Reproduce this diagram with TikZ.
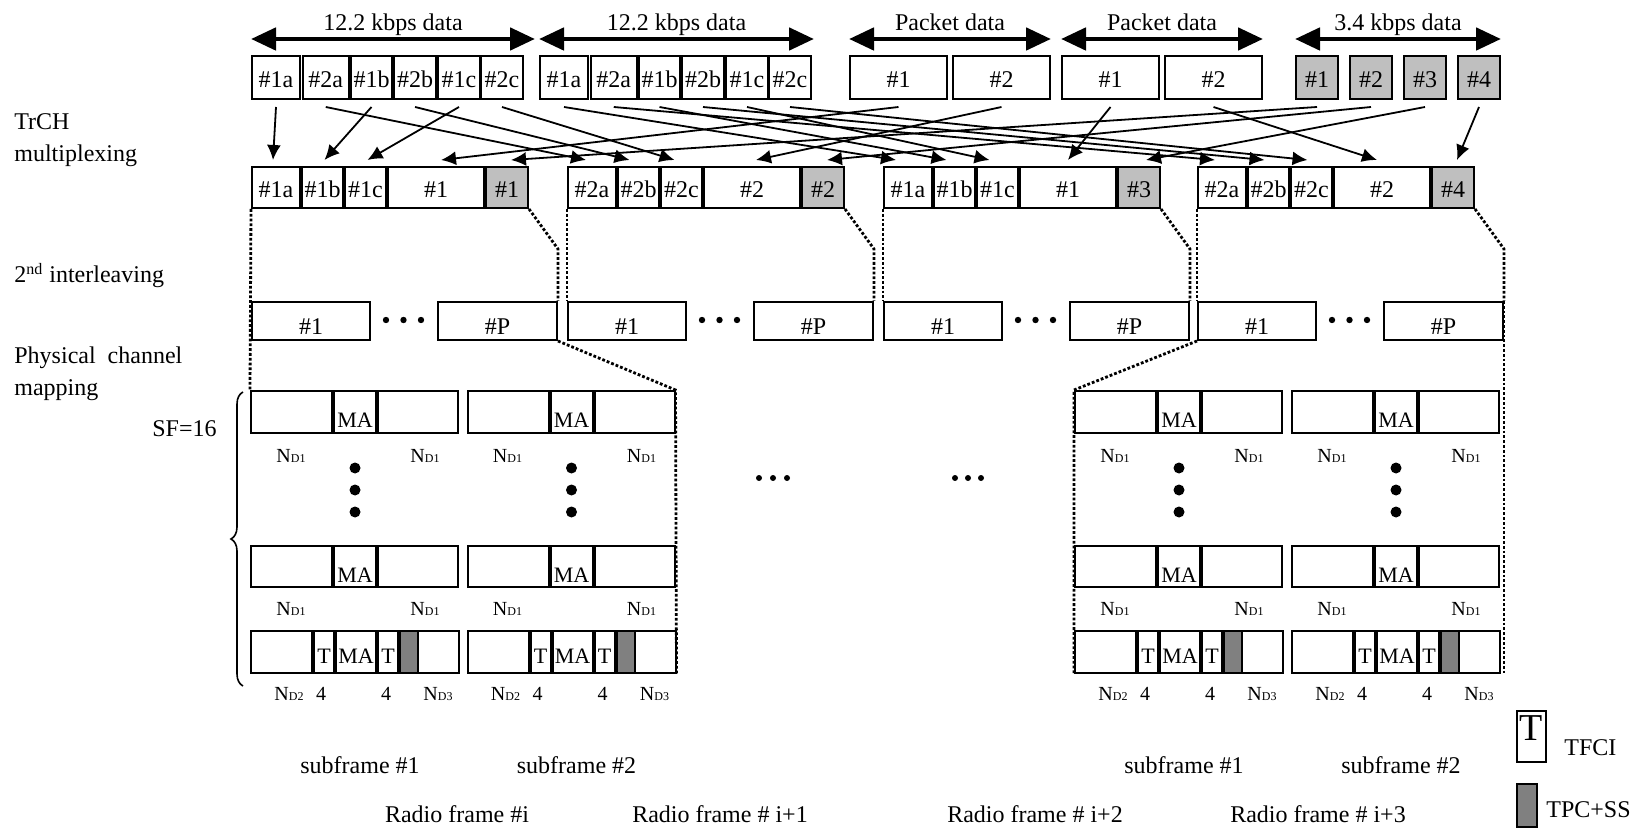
\documentclass[tikz,border=0pt]{standalone}
\usepackage{fontspec}
\setmainfont{Liberation Serif}
\usetikzlibrary{arrows.meta,decorations.pathreplacing}
\newcommand{\bx}[7][]{\node[blk,#1,minimum width={((#4)-(#3))*0.5pt},minimum height={((#6)-(#5))*0.5pt}] (#2) at ({((#3)+(#4))/2},{((#5)+(#6))/2}) {#7};}
\newcommand{\nd}[1]{N{\fontsize{6}{6}\selectfont #1}}
\begin{document}
\begin{tikzpicture}[x=0.5pt, y=-0.5pt, font=\fontsize{12}{14}\selectfont,
  blk/.style={draw, line width=1pt, inner sep=0pt, text height=10.5pt, text depth=0pt},
  lt/.style={fill=black!25},
  dk/.style={fill=black!50},
  lo/.style={text height=14pt},
  ma/.style={font=\fontsize{11}{13}\selectfont, text height=15.5pt},
  tt/.style={font=\fontsize{11}{13}\selectfont, text height=11.5pt},
  leg/.style={font=\fontsize{19}{21}\selectfont, text height=13pt, text depth=9pt},
  con/.style={-{Latex[length=7.5pt,width=7pt]}, line width=0.9pt},
  span/.style={{Triangle[length=12.5pt,width=11pt]}-{Triangle[length=12.5pt,width=11pt]}, line width=2.4pt},
  lab/.style={anchor=base, yshift=4pt},
  dots/.style={densely dotted, line width=1.4pt},
  sm/.style={font=\fontsize{10}{12}\selectfont, anchor=base},
  txt/.style={anchor=base west, inner xsep=0pt}]
\useasboundingbox (0,0) rectangle (1638,828);

% transport channels
\foreach \g/\off in {A/0, B/288}
  \foreach \n/\xa/\xb/\tg in {1/252/300/1a, 2/302.5/349/2a, 3/351/392/1b, 4/394/436/2b, 5/438/480/1c, 6/481/523/2c}
    \bx{\g\n}{\xa+\off}{\xb+\off}{56}{99}{\#\tg};
\foreach \g/\off in {C/0, D/212}
  \foreach \n/\xa/\xb in {1/850/947, 2/953/1050}
    \bx{\g\n}{\xa+\off}{\xb+\off}{56}{99}{\#\n};
\foreach \n in {1,...,4}
  \bx[lt]{E\n}{1242+54*\n}{1284+54*\n}{56}{99}{\#\n};

\draw[span] ([yshift=8pt]A1.north west) -- node[lab] (tA) {12.2 kbps data} ([xshift=5.5pt,yshift=8pt]A6.north east);
\draw[span] ([yshift=8pt]B1.north west) -- node[lab] (tB) {12.2 kbps data} ([xshift=1pt,yshift=8pt]B6.north east);
\draw[span] ([yshift=8pt]C1.north west) -- node[lab] (tC) {Packet data} ([yshift=8pt]C2.north east);
\draw[span] ([yshift=8pt]D1.north west) -- node[lab] (tD) {Packet data} ([yshift=8pt]D2.north east);
\draw[span] ([yshift=8pt]E1.north west) -- node[lab] (tE) {3.4 kbps data} ([yshift=8pt]E4.north east);

% radio frames
\foreach \f/\x/\q in {1/252/1, 2/568/2, 3/884/1, 4/1198/2} {
  \bx{f\f-a}{\x}{\x+48}{167}{208}{\#\q a}
  \bx{f\f-b}{\x+50}{\x+91}{167}{208}{\#\q b}
  \bx{f\f-c}{\x+93}{\x+134}{167}{208}{\#\q c}
  \bx{f\f-d}{\x+136}{\x+232}{167}{208}{\#\q}
  \bx[lt]{f\f-e}{\x+234}{\x+276}{167}{208}{\#\f}
  \bx[lo]{i\f-1}{\x}{\x+118}{302}{340}{\#1}
  \bx[lo]{i\f-P}{\x+186}{\x+305}{302}{340}{\#P}
  \foreach \dx in {134,151.5,169} \fill (\x+\dx,320) circle [radius=3.2];
  \draw[dots] (f\f-e.south east) -- ([yshift=26pt]i\f-P.north east) -- (i\f-P.north east);
}

\foreach \s/\tg/\dx in {A1/f1-a/-3, A2/f2-a/-6, A3/f1-b/2, A4/f2-b/-9, A5/f1-c/2, A6/f2-c/-7,
    B1/f3-a/-12, B2/f4-a/-7, B3/f3-b/-8, B4/f4-b/-4, B5/f3-c/-8, B6/f4-c/-4,
    C1/f1-d/5, C2/f2-d/4, D1/f3-d/0, D2/f4-d/-5, E1/f1-e/4, E2/f2-e/4, E3/f3-e/7, E4/f4-e/4}
  \draw[con] ([yshift=-3.5pt]\s.south) -- ([xshift=\dx*0.5pt, yshift=3pt]\tg.north);

% subframes
\foreach \n/\s/\m in {1/251/1, 2/467.5/2, 3/1075/1, 4/1292/2} {
  \foreach \rw/\ya/\yb in {1/391/433, 2/546/587} {
    \bx{p\n-\rw a}{\s}{\s+81}{\ya}{\yb}{}
    \bx[ma]{p\n-\rw b}{\s+83}{\s+125}{\ya}{\yb}{MA}
    \bx{p\n-\rw c}{\s+127}{\s+207}{\ya}{\yb}{}
  }
  \bx{p\n-3a}{\s}{\s+61}{631}{673}{}
  \bx[tt]{p\n-3b}{\s+63}{\s+83}{631}{673}{T}
  \bx[tt]{p\n-3c}{\s+85}{\s+125}{631}{673}{MA}
  \bx[tt]{p\n-3d}{\s+127}{\s+147}{631}{673}{T}
  \bx{p\n-3f}{\s+167}{\s+208}{631}{673}{}
  \bx[dk]{p\n-3e}{\s+149}{\s+167}{631}{673}{}
  \node[sm] (q\n-1) at (\s+40,462) {\nd{D1}};
  \node[sm] (q\n-2) at (\s+174,462) {\nd{D1}};
  \node[sm] (q\n-3) at (\s+40,615) {\nd{D1}};
  \node[sm] (q\n-4) at (\s+174,615) {\nd{D1}};
  \node[sm] (q\n-5) at (\s+38,700) {\nd{D2}};
  \node[sm] (q\n-6) at (\s+70,700) {4};
  \node[sm] (q\n-7) at (\s+135,700) {4};
  \node[sm] (q\n-8) at (\s+187,700) {\nd{D3}};
  \foreach \yy in {468,490,512} \fill (\s+104,\yy) circle [radius=5.5];
  \node[anchor=base] (sub\n) at (\s+109,773) {subframe \#\m};
}

\foreach \cx in {759,773,787,955,968,981} \fill (\cx,478) circle [radius=3];

\draw[dots] (f1-a.south west) -- (p1-1a.north west);
\draw[dots] (f2-a.south west) -- (i2-1.north west);
\draw[dots] (f3-a.south west) -- (i3-1.north west);
\draw[dots] (f4-a.south west) -- (i4-1.north west);
\draw[dots] (i1-P.south east) -- (p2-1c.north east) -- (p2-3f.south east);
\draw[dots] (i4-1.south west) -- (p3-1a.north west) -- (p3-3a.south west);
\draw[dots] (i4-P.north east) -- (i4-P.north east |- p4-3f.south east);

\draw[decorate, decoration={brace, amplitude=6pt}, line width=0.8pt] (243,686) -- (243,392);

\node[txt] (trch) at (14,130) {TrCH};
\node[txt] (mux) at (14,162) {multiplexing};
\node[txt] (ilv) at (14,283) {2\textsuperscript{nd} interleaving};
\node[txt] (pcm) at (14,364) {Physical\ \ channel};
\node[txt] (map) at (14,396) {mapping};
\node[txt] (sf) at (152,437) {SF=16};

\node[anchor=base] (rf1) at (457,822) {Radio frame \#i};
\node[anchor=base] (rf2) at (720,822) {Radio frame \# i+1};
\node[anchor=base] (rf3) at (1035,822) {Radio frame \# i+2};
\node[anchor=base] (rf4) at (1318,822) {Radio frame \# i+3};

\bx[leg]{lgT}{1517}{1546}{711}{762}{T}
\bx[dk]{lgS}{1517}{1537}{784}{827}{}
\node[txt] (tfci) at (1564,755) {TFCI};
\node[txt] (tpc) at (1546,817) {TPC+SS};
\end{tikzpicture}
\end{document}
